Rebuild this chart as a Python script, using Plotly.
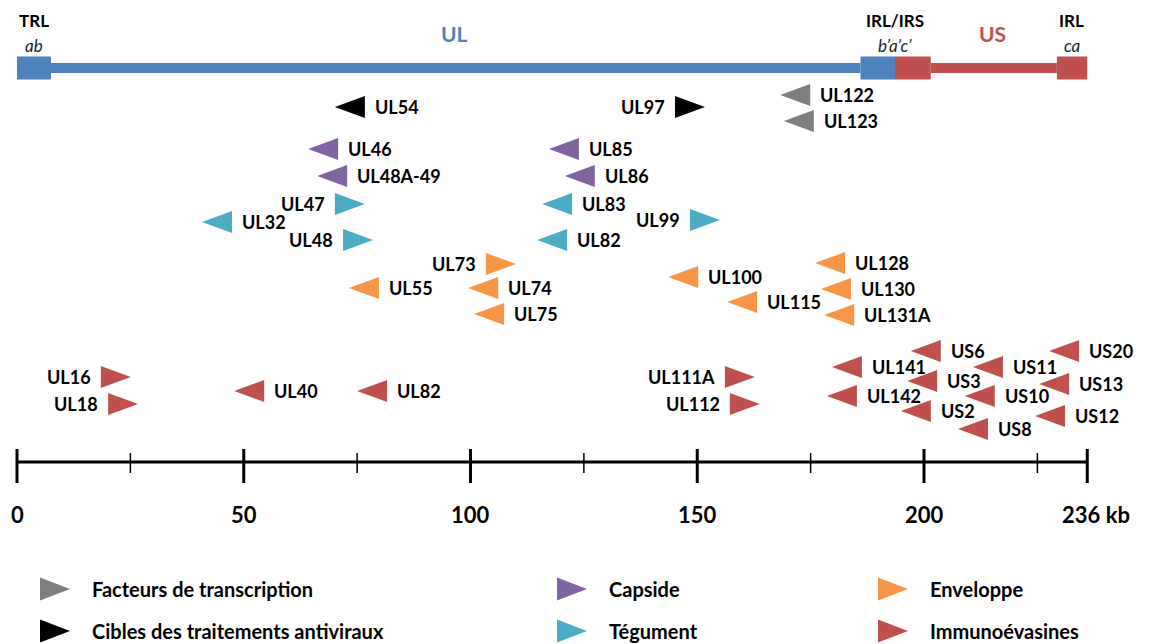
import plotly.graph_objects as go

# categories, legend order and colours
categories = ["Facteurs de transcription", "Cibles des traitements antiviraux",
              "Capside", "Tégument", "Enveloppe", "Immunoévasines"]
cat_colors = ["#7F7F7F", "#000000", "#8064A2", "#4BACC6", "#F79646", "#C0504D"]

# genes: name, position on genome (kb), vertical track, orientation (-1 left, 1 right), category index
gene_names = ["UL122", "UL123",
              "UL54", "UL97",
              "UL46", "UL48A-49", "UL85", "UL86",
              "UL47", "UL32", "UL48", "UL83", "UL82", "UL99",
              "UL73", "UL55", "UL74", "UL75", "UL100", "UL115", "UL128", "UL130", "UL131A",
              "UL16", "UL18", "UL40", "UL82", "UL111A", "UL112", "UL141", "UL142",
              "US6", "US3", "US2", "US11", "US10", "US8", "US20", "US13", "US12"]
gene_kb = [171.6, 172.4,
           73.4, 148.4,
           67.5, 69.5, 120.6, 124.1,
           73.4, 44.1, 75.2, 119.1, 118.0, 151.7,
           106.7, 76.5, 102.8, 104.1, 146.9, 159.9, 179.3, 180.6, 181.3,
           21.8, 23.4, 51.2, 78.3, 159.4, 160.5, 183.0, 181.9,
           200.4, 199.6, 198.2, 214.1, 212.3, 210.8, 230.9, 228.7, 227.8]
gene_track = [95, 121,
              107, 107,
              149, 176, 149, 176,
              204, 222, 240, 204, 240, 220,
              264, 288, 288, 314, 277, 302, 263, 289, 315,
              377, 404, 391, 391, 377, 404, 367, 396,
              351, 381, 411, 367, 396, 429, 351, 384, 416]
gene_dir = [-1, -1,
            -1, 1,
            -1, -1, -1, -1,
            1, -1, 1, -1, -1, 1,
            1, -1, -1, -1, -1, -1, -1, -1, -1,
            1, 1, -1, -1, 1, 1, -1, -1,
            -1, -1, -1, -1, -1, -1, -1, -1, -1]
gene_cat = [0, 0,
            1, 1,
            2, 2, 2, 2,
            3, 3, 3, 3, 3, 3,
            4, 4, 4, 4, 4, 4, 4, 4, 4,
            5, 5, 5, 5, 5, 5, 5, 5,
            5, 5, 5, 5, 5, 5, 5, 5, 5]

# genome segments (kb)
seg_labels = ["TRL", "IRL/IRS", "IRL"]
seg_sub = ["ab", "b\u2019a\u2019c\u2019", "ca"]
box_start = [0, 186.0, 193.6, 229.3]
box_end = [7.5, 193.6, 201.5, 236.0]
box_color = ["#4F81BD", "#4F81BD", "#C0504D", "#C0504D"]
line_start = [7.5, 201.5]
line_end = [186.0, 229.3]
line_color = ["#4F81BD", "#C0504D"]

major_ticks = [0, 50, 100, 150, 200, 236]
major_labels = ["0", "50", "100", "150", "200", "236 kb"]
minor_ticks = [25, 75, 125, 175, 225]

W, H = 1153, 644
OFF = 8  # page body margin
PX_PER_KB = 4.535
X0 = 17 - OFF
xr = [-X0 / PX_PER_KB, (W - X0) / PX_PER_KB]
FONT = "Lato"
tri_w = 30 / PX_PER_KB
tri_h = 22
BAR_Y = 68
AXIS_Y = 462

fig = go.Figure()

# gene triangles, one trace per category
for ci, cat in enumerate(categories):
    xs, ys = [], []
    for p, t, d, c in zip(gene_kb, gene_track, gene_dir, gene_cat):
        if c != ci:
            continue
        base = p - d * tri_w / 2
        tip = p + d * tri_w / 2
        xs += [base, tip, base, base, None]
        ys += [t - tri_h / 2, t, t + tri_h / 2, t - tri_h / 2, None]
    fig.add_trace(go.Scatter(x=xs, y=ys, mode="lines", fill="toself",
                             fillcolor=cat_colors[ci], line=dict(width=0, color=cat_colors[ci]),
                             name=cat, showlegend=False, hoverinfo="skip"))

# gene labels
for name, p, t, d in zip(gene_names, gene_kb, gene_track, gene_dir):
    fig.add_annotation(x=p, y=t, text="<b>%s</b>" % name, showarrow=False,
                       xanchor="left" if d < 0 else "right", yanchor="middle",
                       xshift=23 if d < 0 else -23,
                       font=dict(family=FONT, size=18, color="black"))

shapes = []
# genome bar
for s, e, c in zip(line_start, line_end, line_color):
    shapes.append(dict(type="rect", x0=s, x1=e, y0=BAR_Y - 5, y1=BAR_Y + 5,
                       fillcolor=c, line_width=0, layer="below"))
for s, e, c in zip(box_start, box_end, box_color):
    shapes.append(dict(type="rect", x0=s, x1=e, y0=BAR_Y - 11.5, y1=BAR_Y + 11.5,
                       fillcolor=c, line_width=0))

# scale axis
shapes.append(dict(type="line", x0=0, x1=236, y0=AXIS_Y, y1=AXIS_Y,
                   line=dict(color="black", width=3)))
for t in major_ticks:
    shapes.append(dict(type="line", x0=t, x1=t, y0=AXIS_Y - 13, y1=AXIS_Y + 21,
                       line=dict(color="black", width=3)))
for t in minor_ticks:
    shapes.append(dict(type="line", x0=t, x1=t, y0=AXIS_Y - 9, y1=AXIS_Y + 11,
                       line=dict(color="black", width=1.5)))
for t, lab in zip(major_ticks, major_labels):
    fig.add_annotation(x=t, y=514, text="<b>%s</b>" % lab, showarrow=False,
                       xanchor="center", yanchor="middle",
                       xshift=9 if lab.endswith("kb") else 0,
                       font=dict(family=FONT, size=22, color="black"))

# segment labels
seg_x = [3.75, 193.6, 232.6]
for x, lab, sub in zip(seg_x, seg_labels, seg_sub):
    fig.add_annotation(x=x, y=20, text="<b>%s</b>" % lab, showarrow=False,
                       yanchor="middle", font=dict(family=FONT, size=17, color="black"))
    fig.add_annotation(x=x, y=45, text="<i>%s</i>" % sub, showarrow=False,
                       yanchor="middle", font=dict(family=FONT, size=17, color="#222222"))
fig.add_annotation(x=96.5, y=33, text="<b>UL</b>", showarrow=False, yanchor="middle",
                   font=dict(family=FONT, size=21, color="#4F81BD"))
fig.add_annotation(x=215.2, y=33, text="<b>US</b>", showarrow=False, yanchor="middle",
                   font=dict(family=FONT, size=21, color="#C0504D"))

# custom legend (3 columns x 2 rows), positions in page pixels
leg_x = [55, 55, 572, 572, 893, 893]
leg_y = [589, 631, 589, 631, 589, 631]
for ci, cat in enumerate(categories):
    cx, cy = (leg_x[ci] - OFF) / W, 1 - (leg_y[ci] - OFF) / H
    hw, hh = 15 / W, 11.5 / H
    shapes.append(dict(type="path", xref="paper", yref="paper",
                       path="M %f,%f L %f,%f L %f,%f Z" % (cx - hw, cy + hh, cx + hw, cy,
                                                           cx - hw, cy - hh),
                       fillcolor=cat_colors[ci], line_width=0))
    fig.add_annotation(xref="paper", yref="paper", x=(leg_x[ci] + 35 - OFF) / W, y=cy,
                       text="<b>%s</b>" % cat, showarrow=False,
                       xanchor="left", yanchor="middle",
                       font=dict(family=FONT, size=20, color="black"))

fig.update_layout(
    width=W, height=H, shapes=shapes,
    margin=dict(l=0, r=0, t=0, b=0),
    paper_bgcolor="white", plot_bgcolor="white",
    xaxis=dict(range=xr, visible=False, fixedrange=True),
    yaxis=dict(range=[H + OFF, OFF], visible=False, fixedrange=True),
    showlegend=False,
)

fig.write_html("out.html")
